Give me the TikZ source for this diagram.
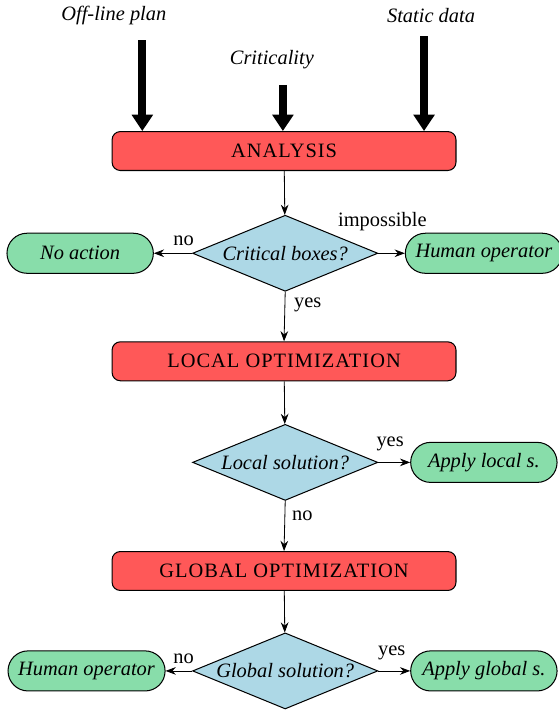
\documentclass[tikz,border=0pt]{standalone}
\usepackage{fontspec}
\setmainfont{Liberation Serif}
\newfontfamily\capsfont[LetterSpace=5]{Liberation Serif}
\usetikzlibrary{shapes.geometric,arrows.meta}

\definecolor{stagered}{RGB}{255,88,88}
\definecolor{outgreen}{RGB}{136,221,170}
\definecolor{testblue}{RGB}{173,216,230}

\tikzset{
  stage/.style={draw, line width=0.5pt, fill=stagered, rounded corners=4pt, minimum width=5.92cm, minimum height=0.67cm, font=\capsfont},
  test/.style={draw, line width=0.5pt, fill=testblue, shape=diamond, aspect=2.4, inner xsep=-20pt, inner ysep=0pt, minimum width=3.19cm, minimum height=1.31cm, font=\itshape},
  outcome/.style={draw, line width=0.5pt, fill=outgreen, rounded corners=0.345cm, minimum width=2.52cm, minimum height=0.69cm, inner xsep=5pt, font=\itshape},
  feed/.style={line width=4pt, -{Triangle[width=10pt,length=8pt]}},
  flow/.style={-{Stealth[length=5pt]}},
}

\begin{document}
\begin{tikzpicture}
    \useasboundingbox (0,0) rectangle (9.61,-12.24);

    % inputs
    \node[font=\itshape] (plan) at (1.96,-0.26) {Off-line plan};
    \node[font=\itshape] (crit) at (4.68,-1.03) {Criticality};
    \node[font=\itshape] (static) at (7.42,-0.26) {Static data};
    \coordinate (planin) at (2.45,-0.69);
    \coordinate (critin) at (4.87,-1.46);
    \coordinate (staticin) at (7.30,-0.62);

    \node[stage] (analysis) at (4.89,-2.60) {ANALYSIS};
    \draw[feed] (planin) -- (planin |- analysis.north);
    \draw[feed] (critin) -- (critin |- analysis.north);
    \draw[feed] (staticin) -- (staticin |- analysis.north);

    % first test
    \node[test] (critbox) at (4.91,-4.36) {Critical boxes?};
    \node[outcome] (noaction) at (1.38,-4.36) {No action};
    \node[outcome] (human) at (8.33,-4.36) {Human operator};
    \draw[flow] (analysis) -- (critbox);
    \draw[flow] (critbox.west) -- node[pos=0.22, above] {no} (noaction.east);
    \draw[flow] (critbox.east) -- node[pos=0.15, above=7.5pt] {impossible} (human.west);

    % local step
    \node[stage] (local) at (4.89,-6.22) {LOCAL OPTIMIZATION};
    \draw[flow] (critbox.south) -- node[pos=0.27, right, xshift=1pt] {yes} (local.north);
    \node[test] (localsol) at (4.91,-7.96) {Local solution?};
    \node[outcome] (applylocal) at (8.33,-7.96) {Apply local s.};
    \draw[flow] (local) -- (localsol);
    \draw[flow] (localsol.east) -- node[pos=0.37, above=2pt] {yes} (applylocal.west);

    % global step
    \node[stage] (global) at (4.89,-9.83) {GLOBAL OPTIMIZATION};
    \draw[flow] (localsol.south) -- node[pos=0.3, right] {no} (global.north);
    \node[test] (globalsol) at (4.91,-11.55) {Global solution?};
    \node[outcome] (human2) at (1.49,-11.55) {Human operator};
    \node[outcome] (applyglobal) at (8.33,-11.55) {Apply global s.};
    \draw[flow] (global) -- (globalsol);
    \draw[flow] (globalsol.west) -- node[pos=0.32, above] {no} (human2.east);
    \draw[flow] (globalsol.east) -- node[pos=0.42, above=2pt] {yes} (applyglobal.west);
\end{tikzpicture}
\end{document}
